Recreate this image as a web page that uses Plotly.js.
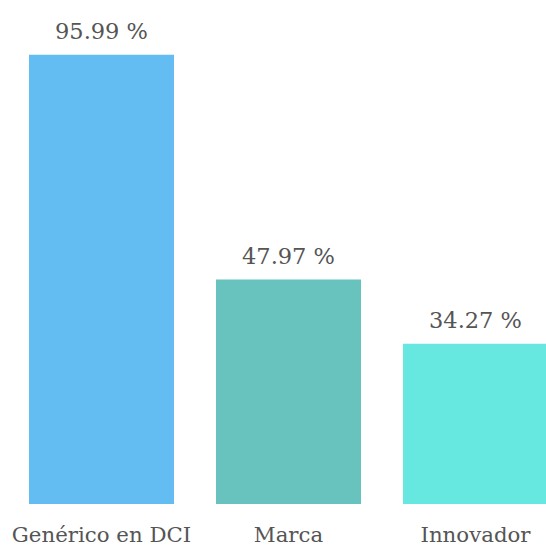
<!DOCTYPE html>
<html>
<head>
<meta charset="utf-8">
<script src="https://cdn.plot.ly/plotly-3.0.1.min.js"></script>
<style>html,body{margin:0;padding:0;background:#fff;}#chart{width:546px;height:548px;}</style>
</head>
<body>
<div id="chart"></div>
<script>
const categories = ["Genérico en DCI", "Marca", "Innovador"];
const values = [95.99, 47.97, 34.27];
const colors = ["#64BDF2", "#68C2BE", "#66E8E0"];
const valueLabels = values.map(v => v.toFixed(2) + " %");

const FONT = "DejaVu Serif";
const TEXT_COLOR = "#555555";

const trace = {
  type: "bar",
  x: categories,
  y: values,
  marker: { color: colors },
  hoverinfo: "none"
};

const annotations = categories.map((c, i) => ({
  x: c, y: values[i], xref: "x", yref: "y",
  text: valueLabels[i], showarrow: false,
  yanchor: "bottom", yshift: 9,
  font: { family: FONT, size: 22.5, color: TEXT_COLOR }
}));

const layout = {
  width: 546, height: 548,
  margin: { l: 0, r: 0, t: 0, b: 44, pad: 0 },
  paper_bgcolor: "#ffffff", plot_bgcolor: "#ffffff",
  bargap: 0.2246,
  showlegend: false,
  xaxis: {
    type: "category",
    range: [-0.5428, 2.377],
    showgrid: false, zeroline: false, showline: false, ticks: "",
    ticklabelstandoff: 16,
    tickfont: { family: FONT, size: 21.3, color: TEXT_COLOR },
    fixedrange: true
  },
  yaxis: {
    range: [0, 107.7],
    visible: false, showgrid: false, zeroline: false, fixedrange: true
  },
  annotations: annotations
};

Plotly.newPlot("chart", [trace], layout, { displayModeBar: false, staticPlot: true });
</script>
</body>
</html>
